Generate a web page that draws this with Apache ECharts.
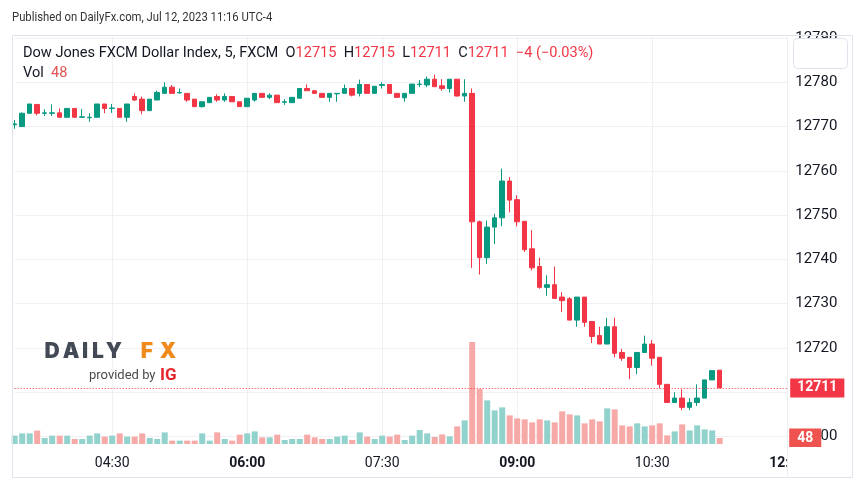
<!DOCTYPE html>
<html><head><meta charset="utf-8">
<script src="https://cdn.jsdelivr.net/npm/echarts@6/dist/echarts.min.js"></script>
<style>html,body{margin:0;padding:0;background:#fff}#c{width:867px;height:492px}</style>
</head><body><div id="c"></div><script>
const times = ["03:25","03:30","03:35","03:40","03:45","03:50","03:55",
"04:00","04:05","04:10","04:15","04:20","04:25","04:30","04:35","04:40","04:45","04:50","04:55",
"05:00","05:05","05:10","05:15","05:20","05:25","05:30","05:35","05:40","05:45","05:50","05:55",
"06:00","06:05","06:10","06:15","06:20","06:25","06:30","06:35","06:40","06:45","06:50","06:55",
"07:00","07:05","07:10","07:15","07:20","07:25","07:30","07:35","07:40","07:45","07:50","07:55",
"08:00","08:05","08:10","08:15","08:20","08:25","08:30","08:35","08:40","08:45","08:50","08:55",
"09:00","09:05","09:10","09:15","09:20","09:25","09:30","09:35","09:40","09:45","09:50","09:55",
"10:00","10:05","10:10","10:15","10:20","10:25","10:30","10:35","10:40","10:45","10:50","10:55",
"11:00","11:05","11:10","11:15","11:20","11:25","11:30","11:35","11:40","11:45","11:50","11:55",
"12:00"];
const xTickLabels = ["04:30","06:00","07:30","09:00","10:30","12:00"];
const boldTicks = ["06:00","09:00","12:00"];
const priceMin = 12700, priceMax = 12790, priceStep = 10;

const opens = [12770.4,12770,12773,12775,12773,12773,12773.1,12772.1,12774.1,12772.1,
12772,12772.1,12775.1,12774.1,12774.1,12772.1,12776.8,12776.2,12773.6,12776,
12777.5,12778.9,12777.6,12777.5,12776.2,12774.5,12775.4,12776.8,12776,12776.8,
12775.6,12774.5,12776,12777.5,12776.6,12777.1,12775.5,12775.4,12776.4,12778.6,
12778.1,12777.5,12776.6,12777.4,12777.5,12778.6,12777.5,12779.5,12777.5,12779.3,
12779.5,12777.5,12776.5,12777.5,12779.5,12779.4,12780.7,12779.2,12778.6,12780.7,
12776.9,12777.5,12748.5,12740.4,12747.3,12749.4,12757.7,12753.5,12748.6,12742.4,
12738.4,12733.7,12734.3,12731.5,12731.1,12726.3,12731.5,12726,12722.8,12720.9,
12724.8,12719,12717.9,12715.6,12719,12720.9,12717.9,12711.8,12707.7,12708.7,
12706.6,12707.7,12708.7,12712.8,12715];
const closes = [12770.6,12773,12775.1,12773,12773.1,12773.1,12772.1,12774.1,12772.1,12772.2,
12772.1,12775.1,12774.1,12774.2,12772.1,12775.1,12776,12773.6,12776.2,12777.7,
12778.9,12777.5,12777.7,12776,12774.5,12775.6,12776.6,12776,12776.8,12775.6,
12774.5,12776.4,12777.5,12776.6,12777.1,12775.4,12775.6,12776.6,12778.6,12778.1,
12777.5,12776.6,12777.5,12777.5,12778.6,12777.1,12779.5,12777.5,12779.1,12779.5,
12777.5,12776.6,12777.5,12779.6,12779.6,12780.7,12779,12778.6,12780.7,12776.9,
12777.5,12748.5,12740.4,12747.3,12749.4,12757.7,12753.4,12748.5,12742.2,12738.1,
12733.7,12734.3,12731.2,12730.7,12726.3,12731.5,12725.8,12722.6,12720.9,12724.8,
12718.8,12717.7,12715.6,12719,12720.9,12717.7,12711.8,12707.7,12708.7,12706.6,
12707.7,12708.7,12712.8,12714.9,12711];
const lows = [12769.5,12770,12773,12772.5,12772.4,12772.4,12772.1,12772.1,12772.1,12772.1,
12771.1,12772.1,12773,12773.1,12772.1,12771.1,12775.8,12772.8,12773.6,12776,
12777.5,12777.5,12777.5,12775.6,12774.5,12774.3,12775.4,12775.6,12775.6,12775.6,
12774.5,12774.5,12775.6,12776.6,12776.2,12775.4,12774.9,12775.4,12776.4,12778.1,
12777.5,12776.6,12775.6,12775.6,12777.5,12776.8,12776.8,12777.5,12777.5,12778.6,
12777.5,12776.6,12775.6,12777.5,12778.9,12778.9,12779,12778.1,12777.7,12776.8,
12775.6,12738.1,12736.6,12739,12743.5,12747.5,12750.6,12747.5,12741.7,12737.5,
12733.4,12731.8,12731.2,12728.1,12726.3,12724.8,12724.8,12721.1,12720.9,12720.9,
12717.9,12717.1,12713,12714.1,12719,12716,12710.9,12707.7,12707.7,12706,
12706,12706.9,12708.7,12712.8,12711];
const highs = [12771.5,12773.2,12775.1,12775,12773.9,12775,12774.1,12774.1,12774.1,12774,
12773,12775.1,12775.1,12775.1,12774.1,12775.1,12777.5,12776.8,12776.2,12778.1,
12780,12779.4,12778.6,12777.5,12776.2,12775.6,12776.6,12777.3,12777.5,12776.8,
12775.6,12776.4,12777.5,12777.5,12777.5,12777.1,12776.2,12776.6,12778.6,12779.5,
12778.1,12777.5,12777.5,12777.5,12779.5,12778.6,12780.6,12779.5,12779.1,12780,
12779.5,12777.5,12777.5,12779.6,12780.5,12781.3,12781.7,12780.7,12780.7,12780.7,
12780.7,12778.6,12748.8,12748.8,12750.3,12760.5,12758.6,12754.5,12748.6,12746.6,
12740.4,12736.4,12738.4,12732.6,12731.5,12731.5,12731.5,12726,12724.8,12726.8,
12726.8,12719.8,12717.9,12719,12722.8,12721.8,12717.9,12711.8,12710,12710.7,
12708.7,12711.8,12712.8,12714.9,12715];
const volumes = [67,85,85,107,48,67,67,67,40,40,
67,85,59,67,85,59,59,85,48,40,
93,27,27,27,27,85,27,93,40,27,
75,85,101,53,53,75,32,40,40,75,
53,40,40,59,67,32,93,59,40,67,
59,75,32,67,112,85,56,77,61,141,
189,816,440,349,269,293,229,205,197,173,
197,189,173,261,237,229,165,197,181,285,
277,149,141,165,141,149,165,69,101,157,
109,149,117,109,48];

const UP = '#089981', DOWN = '#f23645';
const UPV = '#92d2cc', DOWNV = '#f7a9a7';
const FONT = 'Roboto';
const TXT = '#131722';
const GRID_C = '#eef0f4';

const candleData = opens.map((o, i) => [o, closes[i], lows[i], highs[i]]);
const volData = volumes.map((v, i) => ({ value: v, itemStyle: { color: closes[i] >= opens[i] ? UPV : DOWNV } }));
const n = opens.length;
const lastO = opens[n - 1], lastC = closes[n - 1], lastH = highs[n - 1], lastL = lows[n - 1], lastV = volumes[n - 1];
const prevC = closes[n - 2];
const chg = Math.round(lastC) - Math.round(prevC);
const pct = (chg / Math.round(prevC) * 100).toFixed(2);
const sgn = x => (x < 0 ? '\u2212' + String(Math.abs(x)) : '+' + x);
const pctStr = (pct < 0 ? '\u2212' + pct.replace('-', '') : '+' + pct) + '%';
const r = v => String(Math.round(v));

const isTick = (idx, val) => xTickLabels.indexOf(times[idx]) >= 0;

const chart = echarts.init(document.getElementById('c'), null, { renderer: 'canvas' });

const letters = [['D', 52, '#434a56'], ['A', 71, '#434a56'], ['I', 85, '#434a56'], ['L', 98, '#434a56'], ['Y', 114, '#434a56'], ['F', 147, '#f08a1d'], ['X', 168, '#f08a1d']];

const graphics = [
  { type: 'text', x: 12, y: 11, scaleX: 0.87, z: 100, style: { text: 'Published on DailyFx.com, Jul 12, 2023 11:16 UTC-4', font: '13px ' + FONT, fill: '#333' } },
  { type: 'rect', z: 100, shape: { x: 787.5, y: 447, width: 65, height: 30 }, style: { fill: '#fff' } },
  { type: 'rect', z: 101, shape: { x: 12.5, y: 35.5, width: 840, height: 442 }, style: { fill: 'none', stroke: '#e0e3eb', lineWidth: 1 } },
  { type: 'line', z: 101, shape: { x1: 787.5, y1: 35, x2: 787.5, y2: 478 }, style: { stroke: '#eceef2', lineWidth: 1 } },
  { type: 'rect', z: 101, shape: { x: 793.5, y: 38.5, width: 54, height: 30, r: 4 }, style: { fill: '#fff', stroke: '#e0e3eb', lineWidth: 1 } },
  { type: 'text', x: 23, y: 46, scaleX: 1.04, z: 100, style: {
      text: '{t|Dow Jones FXCM Dollar Index, 5, FXCM}  {t|O}{v|' + r(lastO) + '}  {t|H}{v|' + r(lastH) + '}  {t|L}{v|' + r(lastL) + '}  {t|C}{v|' + r(lastC) + '}  {v|' + sgn(chg) + ' (' + pctStr + ')}',
      font: '14px ' + FONT,
      rich: { t: { fill: TXT, font: '14px ' + FONT }, v: { fill: DOWN, font: '14px ' + FONT } } } },
  { type: 'text', x: 23, y: 66, scaleX: 1.04, z: 100, style: {
      text: '{t|Vol}  {v|' + lastV + '}', font: '14px ' + FONT,
      rich: { t: { fill: TXT, font: '14px ' + FONT }, v: { fill: '#e0534f', font: '14px ' + FONT } } } },
  { type: 'text', left: 89, top: 369, z: 100, style: { text: 'provided by', font: '13px ' + FONT, fill: '#4a4a4a' } },
  { type: 'text', left: 160, top: 367, z: 100, style: { text: 'IG', font: 'bold 17px ' + FONT, fill: '#e3262b' } }
];
letters.forEach(([ch, x, col]) => {
  graphics.push({ type: 'text', z: 100, x: x, y: 352, style: { text: ch, font: '900 21px Inter', fill: col, align: 'center', verticalAlign: 'middle' } });
});

chart.setOption({
  animation: false,
  backgroundColor: '#fff',
  grid: [
    { left: 14.7, width: 772.5, top: 38, height: 398.6 },
    { left: 14.7, width: 772.5, top: 35, height: 409 }
  ],
  xAxis: [
    { gridIndex: 0, type: 'category', data: times, boundaryGap: false, show: false },
    { gridIndex: 1, type: 'category', data: times, boundaryGap: false,
      axisLine: { show: false }, axisTick: { show: false },
      axisLabel: { interval: isTick, margin: 12, hideOverlap: false,
        formatter: v => (boldTicks.indexOf(v) >= 0 ? '{b|' + v + '}' : '{n|' + v + '}'),
        rich: { b: { fontFamily: FONT, fontSize: 14, fontWeight: 'bold', color: TXT }, n: { fontFamily: FONT, fontSize: 14, color: TXT } } },
      splitLine: { show: true, interval: isTick, lineStyle: { color: GRID_C, width: 1 } } }
  ],
  yAxis: [
    { gridIndex: 0, type: 'value', position: 'right', min: priceMin, max: priceMax, interval: priceStep,
      axisLine: { show: false }, axisTick: { show: false },
      axisLabel: { margin: 8, color: TXT, fontSize: 15, fontFamily: FONT, formatter: v => String(v) },
      splitLine: { lineStyle: { color: GRID_C, width: 1 } } },
    { gridIndex: 1, type: 'value', min: 0, max: 3272, show: false, splitLine: { show: false } }
  ],
  series: [
    { type: 'bar', xAxisIndex: 1, yAxisIndex: 1, data: volData, barWidth: 6, z: 2,
      markLine: { silent: true, symbol: ['none', 'none'], animation: false,
        data: [{ yAxis: lastV }], lineStyle: { color: 'rgba(0,0,0,0)', width: 1 },
        label: { show: true, position: 'end', distance: 2, formatter: () => String(lastV), backgroundColor: '#ef5350', color: '#fff',
          fontFamily: FONT, fontSize: 14, fontWeight: 'bold', padding: [3, 8, 2, 8] } } },
    { type: 'candlestick', xAxisIndex: 0, yAxisIndex: 0, data: candleData, barWidth: 5, z: 3,
      itemStyle: { color: UP, color0: DOWN, borderColor: UP, borderColor0: DOWN, borderWidth: 1 },
      markLine: { silent: true, symbol: ['none', 'none'], animation: false,
        data: [{ yAxis: lastC }], lineStyle: { color: DOWN, type: [1, 2], width: 1 },
        label: { position: 'end', distance: 3, formatter: () => r(lastC), backgroundColor: DOWN, color: '#fff',
          fontFamily: FONT, fontSize: 14, fontWeight: 'bold', padding: [3, 7, 2, 7] } } }
  ],
  graphic: graphics
});
</script></body></html>
